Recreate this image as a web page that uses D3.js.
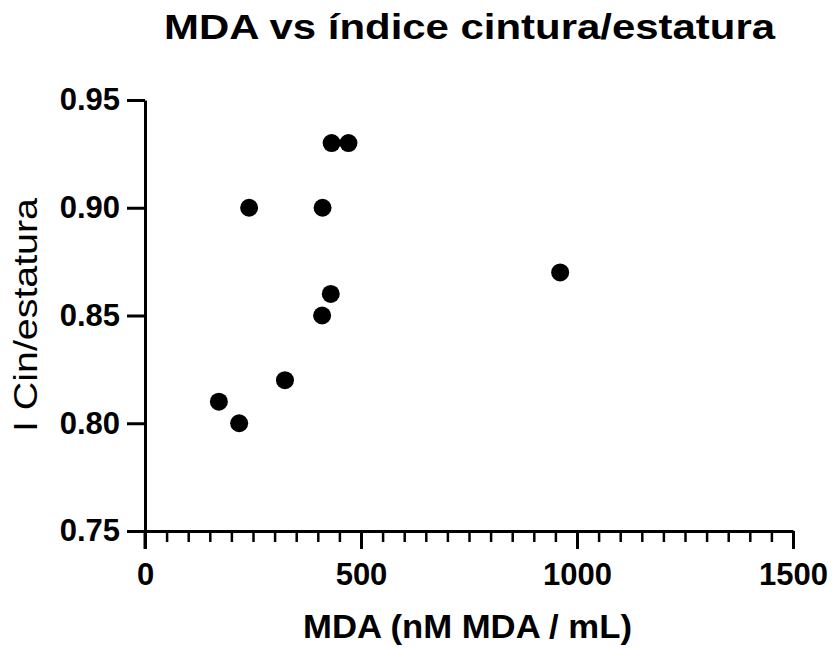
<!DOCTYPE html>
<html><head><meta charset="utf-8">
<script src="https://cdn.jsdelivr.net/npm/d3@7"></script>
<style>body{margin:0;background:#fff}text{font-family:Arial,"Liberation Sans",sans-serif}</style>
</head><body><svg id="c" width="833" height="648"></svg>
<script>
const mdaValues = [432, 471, 241, 411, 961, 430, 410, 324, 171, 218];
const ratioValues = [0.93, 0.93, 0.90, 0.90, 0.87, 0.86, 0.85, 0.82, 0.81, 0.80];
const xTicks = [0, 500, 1000, 1500];
const yTicks = [0.75, 0.80, 0.85, 0.90, 0.95];
const titleText = "MDA vs índice cintura/estatura";
const xLabel = "MDA (nM MDA / mL)";
const yLabel = "I Cin/estatura";

const svg = d3.select("#c");
const x = d3.scaleLinear().domain([0, 1500]).range([145, 793]);
const y = d3.scaleLinear().domain([0.75, 0.95]).range([531, 100]);

// minor x ticks
svg.append("g").attr("transform","translate(0,531)")
  .call(d3.axisBottom(x).tickValues(d3.range(0,1501,50)).tickSize(11).tickFormat(""))
  .call(g=>g.select(".domain").remove())
  .call(g=>g.selectAll("line").attr("stroke","#000").attr("stroke-width",2.5));

const gx = svg.append("g").attr("transform","translate(0,531)")
  .call(d3.axisBottom(x).tickValues(xTicks).tickSize(18).tickSizeOuter(0).tickFormat(d3.format("d")).tickPadding(14));
gx.select(".domain").attr("stroke","#000").attr("stroke-width",3);
gx.selectAll("line").attr("stroke","#000").attr("stroke-width",3);
gx.selectAll("text").attr("fill","#000").attr("font-size",31).attr("font-weight","bold").attr("dy","0.71em");

const gy = svg.append("g").attr("transform","translate(145,0)")
  .call(d3.axisLeft(y).tickValues(yTicks).tickSize(18).tickSizeOuter(0).tickFormat(d3.format(".2f")).tickPadding(7));
gy.select(".domain").attr("stroke","#000").attr("stroke-width",3);
gy.selectAll("line").attr("stroke","#000").attr("stroke-width",3);
gy.selectAll("text").attr("fill","#000").attr("font-size",31).attr("font-weight","bold");
// y axis line continues below the x axis
svg.append("line").attr("x1",145).attr("x2",145).attr("y1",y(0.75)).attr("y2",y(0.75)+18).attr("stroke","#000").attr("stroke-width",3);

svg.append("g").selectAll("circle").data(mdaValues).join("circle")
  .attr("cx",(d)=>x(d)).attr("cy",(d,i)=>y(ratioValues[i])).attr("r",9).attr("fill","#000");

svg.append("text").attr("x",164).attr("y",39).attr("font-size",35).attr("font-weight","bold").text(titleText)
  .attr("textLength",611).attr("lengthAdjust","spacingAndGlyphs");

svg.append("text").attr("x",303).attr("y",638).attr("font-size",34).attr("font-weight","bold").text(xLabel)
  .attr("textLength",329).attr("lengthAdjust","spacingAndGlyphs");

svg.append("text").attr("transform","translate(37,432) rotate(-90)").attr("font-size",34).attr("font-weight","normal").text(yLabel)
  .attr("textLength",234).attr("lengthAdjust","spacingAndGlyphs");
</script></body></html>
